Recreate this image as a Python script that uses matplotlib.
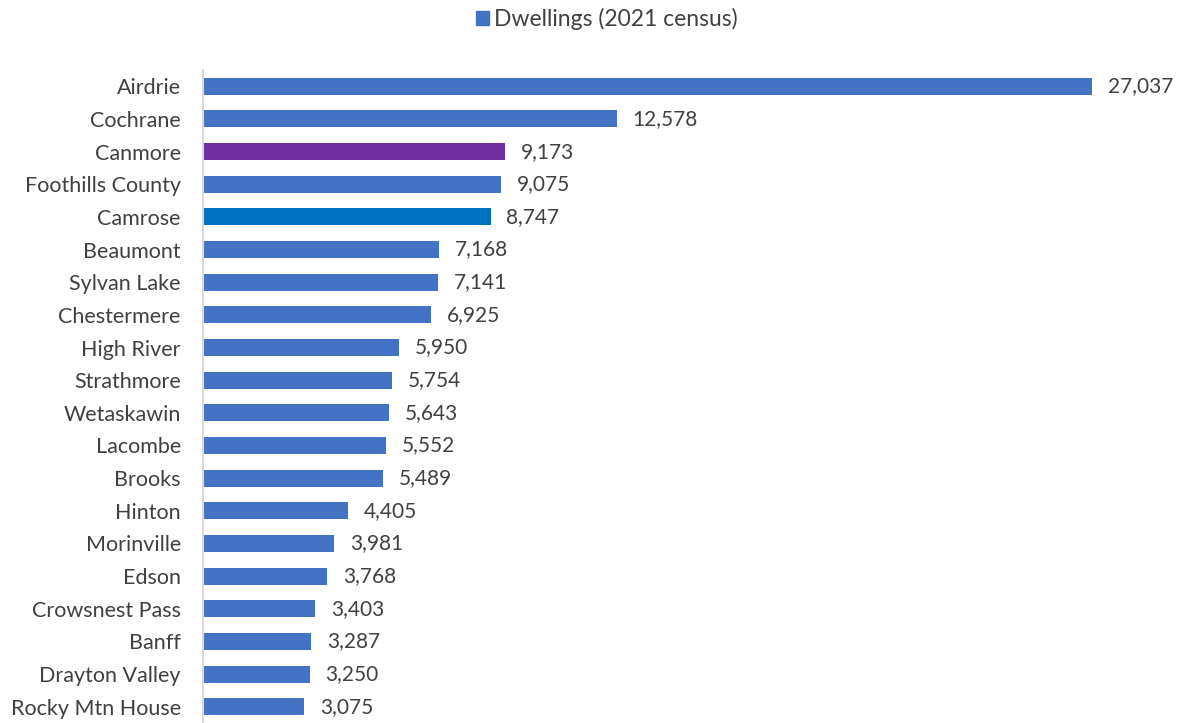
import matplotlib
matplotlib.use("Agg")
import matplotlib.pyplot as plt
from matplotlib.patches import Patch
import numpy as np

plt.rcParams["font.family"] = ["Lato", "DejaVu Sans"]

communities = [
    "Airdrie", "Cochrane", "Canmore", "Foothills County", "Camrose",
    "Beaumont", "Sylvan Lake", "Chestermere", "High River", "Strathmore",
    "Wetaskawin", "Lacombe", "Brooks", "Hinton", "Morinville", "Edson",
    "Crowsnest Pass", "Banff", "Drayton Valley", "Rocky Mtn House",
]
dwellings = [
    27037, 12578, 9173, 9075, 8747, 7168, 7141, 6925, 5950, 5754,
    5643, 5552, 5489, 4405, 3981, 3768, 3403, 3287, 3250, 3075,
]

BLUE = "#4472C4"
highlight = {"Canmore": "#7030A0", "Camrose": "#0070C0"}
colors = [highlight.get(c, BLUE) for c in communities]
TEXT = "#404040"

fig = plt.figure(figsize=(11.79, 7.23), dpi=100)
ax = fig.add_axes([203 / 1179, 0.0, (1170 - 203) / 1179, 1 - 70 / 723])

y = np.arange(len(communities))
bars = ax.barh(y, dwellings, height=0.52, color=colors)
for bar, val in zip(bars, dwellings):
    ax.text(bar.get_width() + 480, bar.get_y() + bar.get_height() / 2,
            f"{val:,}", va="center", ha="left", fontsize=15, color=TEXT)

ax.set_ylim(len(communities) - 0.5, -0.5)
ax.set_xlim(0, 967 / (889 / 27037))
ax.set_yticks(y)
ax.set_yticklabels(communities, fontsize=15.5, color=TEXT)
ax.tick_params(axis="y", length=0, pad=16)
ax.set_xticks([])
for side in ["top", "right", "bottom"]:
    ax.spines[side].set_visible(False)
ax.spines["left"].set_color("#D9D9D9")
ax.spines["left"].set_linewidth(1.5)

fig.legend(handles=[Patch(color=BLUE, label="Dwellings (2021 census)")],
           loc="center", bbox_to_anchor=(607 / 1179, 1 - 19 / 723), frameon=False,
           fontsize=16.5, handlelength=0.55, handleheight=0.55, handletextpad=0.25,
           labelcolor=TEXT)

fig.savefig("out.png", dpi=100)
